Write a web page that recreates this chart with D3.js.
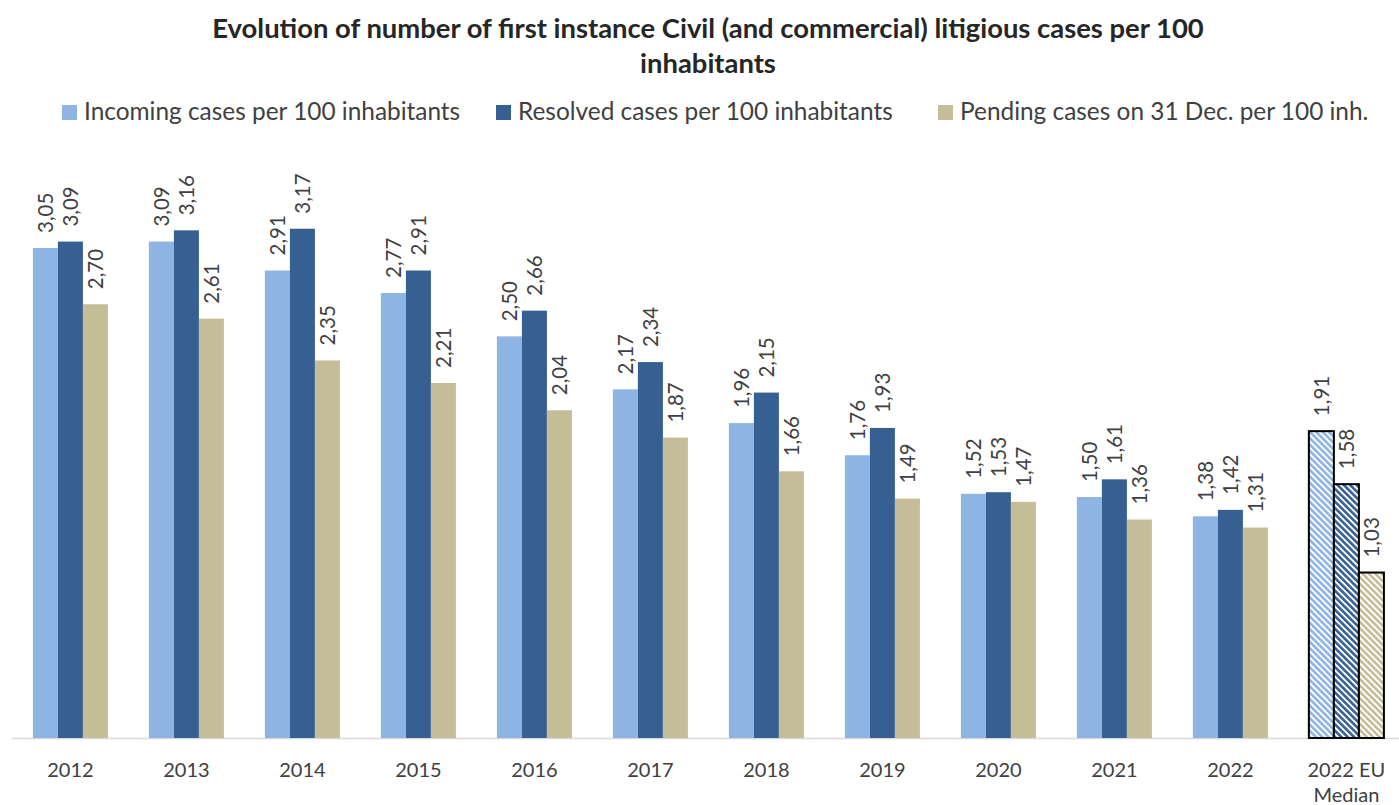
<!DOCTYPE html>
<html>
<head>
<meta charset="utf-8">
<script src="https://cdn.jsdelivr.net/npm/d3@7"></script>
<style>
  html, body { margin: 0; padding: 0; background: #fff; }
  svg { display: block; font-family: Lato, "Open Sans", sans-serif; }
</style>
</head>
<body>
<svg id="chart" width="1399" height="805"></svg>
<script>
// Categories (years plus the EU reference column)
const categories = ["2012", "2013", "2014", "2015", "2016", "2017", "2018", "2019", "2020", "2021", "2022", "2022 EU Median"];
const seriesNames = ["Incoming cases per 100 inhabitants", "Resolved cases per 100 inhabitants", "Pending cases on 31 Dec. per 100 inh."];
const incoming = [3.05, 3.09, 2.91, 2.77, 2.50, 2.17, 1.96, 1.76, 1.52, 1.50, 1.38, 1.91];
const resolved = [3.09, 3.16, 3.17, 2.91, 2.66, 2.34, 2.15, 1.93, 1.53, 1.61, 1.42, 1.58];
const pending  = [2.70, 2.61, 2.35, 2.21, 2.04, 1.87, 1.66, 1.49, 1.47, 1.36, 1.31, 1.03];
const seriesColors = ["#8EB4E3", "#376092", "#C4BD97"];
const medianCategory = "2022 EU Median";

const svg = d3.select("#chart");
const W = 1399;
const baseY = 738;

// Diagonal hatch patterns for the EU median bars
const defs = svg.append("defs");
seriesColors.forEach((c, i) => {
  const p = defs.append("pattern")
    .attr("id", "hatch" + i)
    .attr("patternUnits", "userSpaceOnUse")
    .attr("width", 4.5).attr("height", 4.5)
    .attr("patternTransform", "rotate(-45)");
  p.append("rect").attr("width", 4.5).attr("height", 4.5).attr("fill", "#fff");
  p.append("rect").attr("width", 2.6).attr("height", 4.5).attr("fill", c);
});

// Scales
const x0 = d3.scaleBand()
  .domain(categories)
  .range([12, 1404.8])
  .paddingInner(0.353)
  .paddingOuter(0.18);
const x1 = d3.scaleBand()
  .domain([0, 1, 2])
  .range([0, x0.bandwidth()]);
const y = d3.scaleLinear().domain([0, 3.05]).range([baseY, 248]);

// Title
const title = svg.append("text")
  .attr("text-anchor", "middle")
  .attr("font-weight", "bold").attr("font-size", 27.4).attr("fill", "#262626");
title.append("tspan").attr("x", 708).attr("y", 38).text("Evolution of number of first instance Civil (and commercial) litigious cases per 100");
title.append("tspan").attr("x", 708).attr("y", 73).text("inhabitants");

// Legend
const legendX = [62, 496, 938];
const legend = svg.append("g");
seriesNames.forEach((name, i) => {
  legend.append("rect")
    .attr("x", legendX[i]).attr("y", 105).attr("width", 15).attr("height", 15)
    .attr("fill", seriesColors[i]);
  legend.append("text")
    .attr("x", legendX[i] + 22).attr("y", 120)
    .attr("font-size", 24.4).attr("fill", "#404040")
    .text(name);
});

// Axis baseline
svg.append("line")
  .attr("x1", 12).attr("x2", W).attr("y1", baseY + 0.5).attr("y2", baseY + 0.5)
  .attr("stroke", "#D9D9D9").attr("stroke-width", 1.5);

// Bars with rotated value labels
const seriesValues = [incoming, resolved, pending];
const fmt = v => v.toFixed(2).replace(".", ",");

categories.forEach((cat, ci) => {
  const g = svg.append("g").attr("transform", `translate(${x0(cat)},0)`);
  const isMedian = cat === medianCategory;
  seriesValues.forEach((vals, si) => {
    const v = vals[ci];
    const bx = x1(si);
    const bw = x1.bandwidth();
    g.append("rect")
      .attr("x", bx).attr("y", y(v))
      .attr("width", bw).attr("height", baseY - y(v))
      .attr("fill", isMedian ? `url(#hatch${si})` : seriesColors[si])
      .attr("stroke", isMedian ? "#000" : "none")
      .attr("stroke-width", isMedian ? 2 : 0);
    const lx = bx + bw / 2;
    const ly = y(v) - 15;
    g.append("text")
      .attr("transform", `translate(${lx},${ly}) rotate(-90)`)
      .attr("dy", "0.35em")
      .attr("font-size", 20.5).attr("fill", "#404040")
      .text(fmt(v));
  });
});

// Category labels
const xAxis = svg.append("g");
categories.forEach(cat => {
  const cx = x0(cat) + x0.bandwidth() / 2;
  const t = xAxis.append("text")
    .attr("x", cx).attr("y", 777)
    .attr("text-anchor", "middle")
    .attr("font-size", 20).attr("fill", "#404040");
  if (cat === medianCategory) {
    t.append("tspan").attr("x", cx).attr("y", 777).text("2022 EU");
    t.append("tspan").attr("x", cx).attr("y", 802).text("Median");
  } else {
    t.text(cat);
  }
});
</script>
</body>
</html>
